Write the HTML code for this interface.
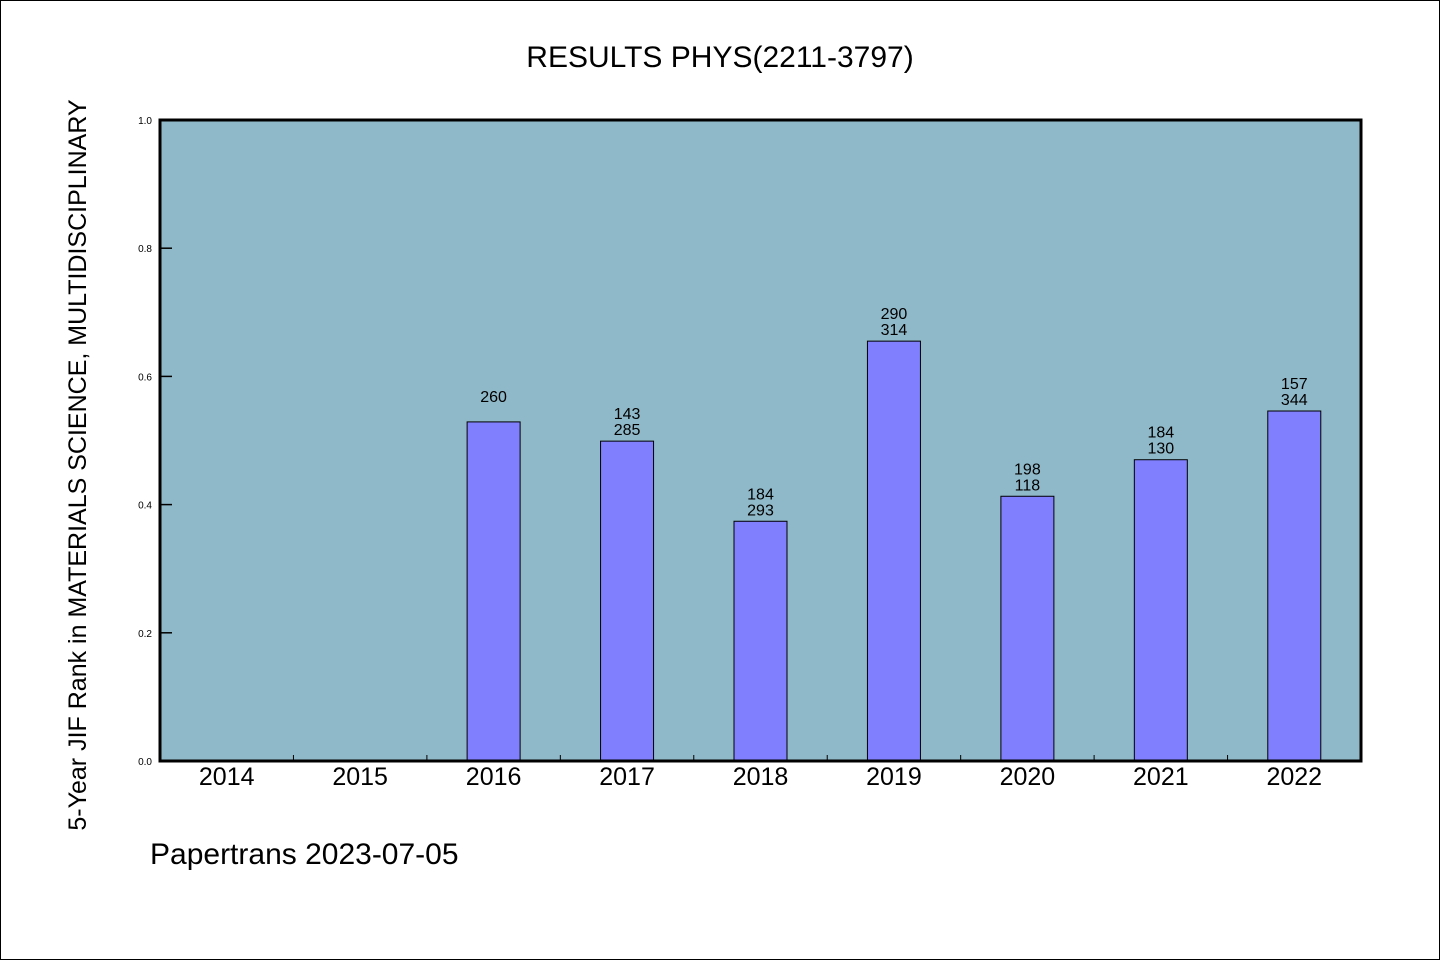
<!DOCTYPE html>
<html><head><meta charset="utf-8"><style>
html,body{margin:0;padding:0;background:#fff;}
body{width:1440px;height:960px;overflow:hidden;}
svg text{font-family:"WenQuanYi Zen Hei","Liberation Sans",sans-serif;}
</style></head><body>
<svg id="chart" width="1440" height="960" xmlns="http://www.w3.org/2000/svg">
<rect x="0.5" y="0.5" width="1439" height="959" fill="#fff" stroke="#000" stroke-width="1"/>
<text x="720" y="67" font-size="30" text-anchor="middle">RESULTS PHYS(2211-3797)</text>
<rect x="160" y="120" width="1201" height="641" fill="#8fb8c8"/>
<g id="ticks"></g>
<g id="bars"></g>
<rect x="160" y="120" width="1201" height="641" fill="none" stroke="#000" stroke-width="3"/>
<text transform="translate(86,465) rotate(-90)" font-size="25" text-anchor="middle">5-Year JIF Rank in MATERIALS SCIENCE, MULTIDISCIPLINARY</text>
<text x="150" y="864" font-size="30">Papertrans 2023-07-05</text>
</svg>
<script>
const categories=["2014","2015","2016","2017","2018","2019","2020","2021","2022"];
const values=[null,null,0.529,0.499,0.374,0.655,0.413,0.470,0.546];
const labelTop=["","","260","143","184","290","198","184","157"];
const labelBottom=["","","","285","293","314","118","130","344"];
const yTicks=[0,0.2,0.4,0.6,0.8,1.0];
const NS="http://www.w3.org/2000/svg";
const L=160,R=1361,T=120,B=761;
const slot=(R-L)/categories.length;
const xc=i=>L+slot*(i+0.5);
const y=v=>B-(v/1.0)*(B-T);
function mk(tag,attrs,parent){const e=document.createElementNS(NS,tag);for(const k in attrs)e.setAttribute(k,attrs[k]);parent.appendChild(e);return e;}
const tg=document.getElementById('ticks'),bg=document.getElementById('bars');
yTicks.forEach(t=>{
  const ln=mk('line',{x1:L,x2:L+12,y1:y(t),y2:y(t),stroke:'#000','stroke-width':1.5},tg);
  
  
  const tx=mk('text',{x:152,y:y(t)+4,'font-size':10,'text-anchor':'end'},tg);
  tx.textContent=t.toFixed(1);
  
  
});
categories.forEach((c,i)=>{
  if(i>0){
    const ln=mk('line',{x1:L+slot*i,x2:L+slot*i,y1:B,y2:B-6,stroke:'#000','stroke-width':1},tg);
    
    
  }
  const tx=mk('text',{x:xc(i),y:785,'font-size':25,'text-anchor':'middle'},tg);
  tx.textContent=c;
  
  
  const v=values[i];
  if(v==null)return;
  const r=mk('rect',{x:xc(i)-26.5,y:y(v),width:53,height:B-y(v),fill:'#8080ff',stroke:'#000','stroke-width':1},bg);
  
  
  if(labelBottom[i]){
    const a=mk('text',{x:xc(i),y:y(v)-22,'font-size':16,'text-anchor':'middle'},bg);
    a.textContent=labelTop[i];
    
    
    const b=mk('text',{x:xc(i),y:y(v)-6,'font-size':16,'text-anchor':'middle'},bg);
    b.textContent=labelBottom[i];
    
    
  } else {
    const a=mk('text',{x:xc(i),y:y(v)-20,'font-size':16,'text-anchor':'middle'},bg);
    a.textContent=labelTop[i];
    
    
  }
});
</script>
</body></html>
